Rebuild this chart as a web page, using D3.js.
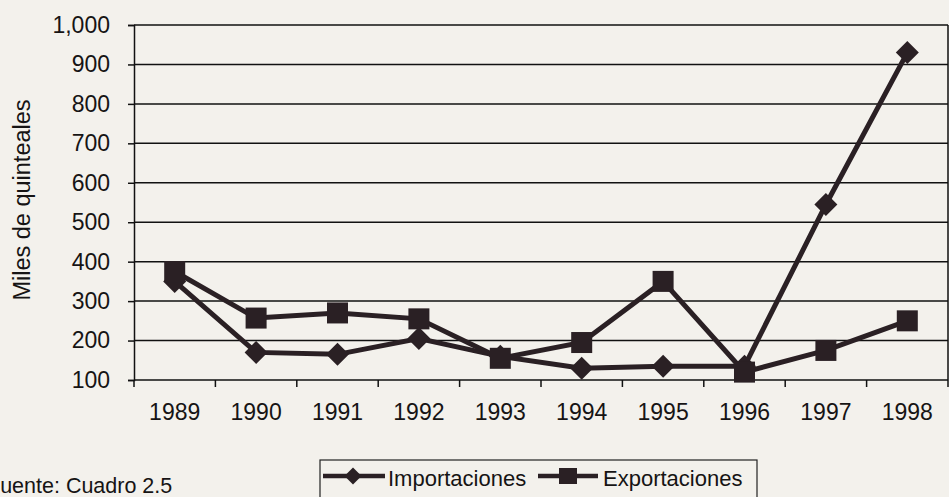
<!DOCTYPE html>
<html>
<head>
<meta charset="utf-8">
<script src="https://cdn.jsdelivr.net/npm/d3@7"></script>
<style>
  body { margin: 0; background: #f3f1ec; overflow: hidden; }
  text { font-family: "Liberation Sans", Arial, sans-serif; fill: #161414; }
</style>
</head>
<body>
<script>
// chart values
var years = ["1989","1990","1991","1992","1993","1994","1995","1996","1997","1998"];
var importaciones = [350, 170, 165, 205, 160, 130, 135, 135, 545, 930];
var exportaciones = [375, 257, 270, 255, 155, 195, 350, 120, 175, 250];
var yTicks = [100, 200, 300, 400, 500, 600, 700, 800, 900, 1000];

var width = 949,
    height = 497;

// plot box (don't call these top/left, window.top is taken)
var pLeft = 134, pRight = 948, pTop = 25, pBottom = 380;
var ink = "#2a2024";

var svg = d3.select("body").append("svg")
    .attr("width", width)
    .attr("height", height);

var x = d3.scaleBand().domain(years).range([pLeft, pRight]);
var y = d3.scaleLinear().domain([100, 1000]).range([pBottom, pTop]);

// gridlines + y axis
var yAxis = d3.axisLeft(y)
    .tickValues(yTicks)
    .tickSize(6)
    .tickPadding(18)
    .tickFormat(d3.format(","));

var gy = svg.append("g")
    .attr("transform", "translate(" + pLeft + ",0)")
    .call(yAxis);
gy.select(".domain").attr("stroke", "#111").attr("stroke-width", 1.5);
gy.selectAll(".tick line").attr("stroke", "#111").attr("stroke-width", 1.5);
gy.selectAll(".tick text").style("font-size", "23px").attr("fill", "#161414");

svg.append("g").selectAll("line")
    .data(yTicks)
    .enter().append("line")
    .attr("x1", pLeft).attr("x2", pRight)
    .attr("y1", d => y(d)).attr("y2", d => y(d))
    .attr("stroke", "#111")
    .attr("stroke-width", 1.5);

// right border
svg.append("line")
    .attr("x1", pRight).attr("x2", pRight)
    .attr("y1", pTop).attr("y2", pBottom)
    .attr("stroke", "#111").attr("stroke-width", 1.5);

// x axis labels (centered in bands), ticks between bands
var xAxis = d3.axisBottom(x).tickSize(0).tickPadding(24);
var gx = svg.append("g")
    .attr("transform", "translate(0," + pBottom + ")")
    .call(xAxis);
gx.select(".domain").remove();
gx.selectAll(".tick text").style("font-size", "23px").attr("fill", "#161414");

svg.append("g").selectAll("line")
    .data(years.concat(["end"]))
    .enter().append("line")
    .attr("x1", (d, i) => pLeft + i * x.step())
    .attr("x2", (d, i) => pLeft + i * x.step())
    .attr("y1", pBottom).attr("y2", pBottom + 7)
    .attr("stroke", "#111").attr("stroke-width", 1.5);

// y axis title
svg.append("text")
    .attr("transform", "translate(30,200) rotate(-90)")
    .attr("text-anchor", "middle")
    .style("font-size", "23.5px")
    .text("Miles de quinteales");

// series
var line = d3.line()
    .x((d, i) => x(years[i]) + x.bandwidth() / 2)
    .y(d => y(d));

function diamond(r) {
  return "M0," + (-r) + "L" + r + ",0L0," + r + "L" + (-r) + ",0Z";
}

svg.append("path")
    .datum(importaciones)
    .attr("d", line)
    .attr("fill", "none")
    .attr("stroke", ink)
    .attr("stroke-width", 5);

svg.append("g").selectAll("path")
    .data(importaciones)
    .enter().append("path")
    .attr("d", diamond(11.5))
    .attr("transform", (d, i) => "translate(" + (x(years[i]) + x.bandwidth() / 2) + "," + y(d) + ")")
    .attr("fill", ink);

svg.append("path")
    .datum(exportaciones)
    .attr("d", line)
    .attr("fill", "none")
    .attr("stroke", ink)
    .attr("stroke-width", 5);

svg.append("g").selectAll("rect")
    .data(exportaciones)
    .enter().append("rect")
    .attr("x", (d, i) => x(years[i]) + x.bandwidth() / 2 - 10.5)
    .attr("y", d => y(d) - 10.5)
    .attr("width", 21).attr("height", 21)
    .attr("fill", ink);

// legend
var lg = svg.append("g");
lg.append("rect")
    .attr("x", 320).attr("y", 460)
    .attr("width", 437).attr("height", 50)
    .attr("fill", "none")
    .attr("stroke", "#222").attr("stroke-width", 1.2);

lg.append("line").attr("x1", 323).attr("x2", 385).attr("y1", 476).attr("y2", 476)
    .attr("stroke", ink).attr("stroke-width", 4.5);
lg.append("path").attr("d", diamond(8.5)).attr("transform", "translate(353,476)").attr("fill", ink);
lg.append("text").attr("x", 388).attr("y", 486).style("font-size", "22px").text("Importaciones");

lg.append("line").attr("x1", 538).attr("x2", 598).attr("y1", 476).attr("y2", 476)
    .attr("stroke", ink).attr("stroke-width", 4.5);
lg.append("rect").attr("x", 559).attr("y", 468).attr("width", 18).attr("height", 16).attr("fill", ink);
lg.append("text").attr("x", 603).attr("y", 486).style("font-size", "22px").text("Exportaciones");

// source note (left edge cut in the photo)
svg.append("text")
    .attr("x", -13).attr("y", 493)
    .style("font-size", "21.5px")
    .text("Fuente: Cuadro 2.5");
</script>
</body>
</html>
